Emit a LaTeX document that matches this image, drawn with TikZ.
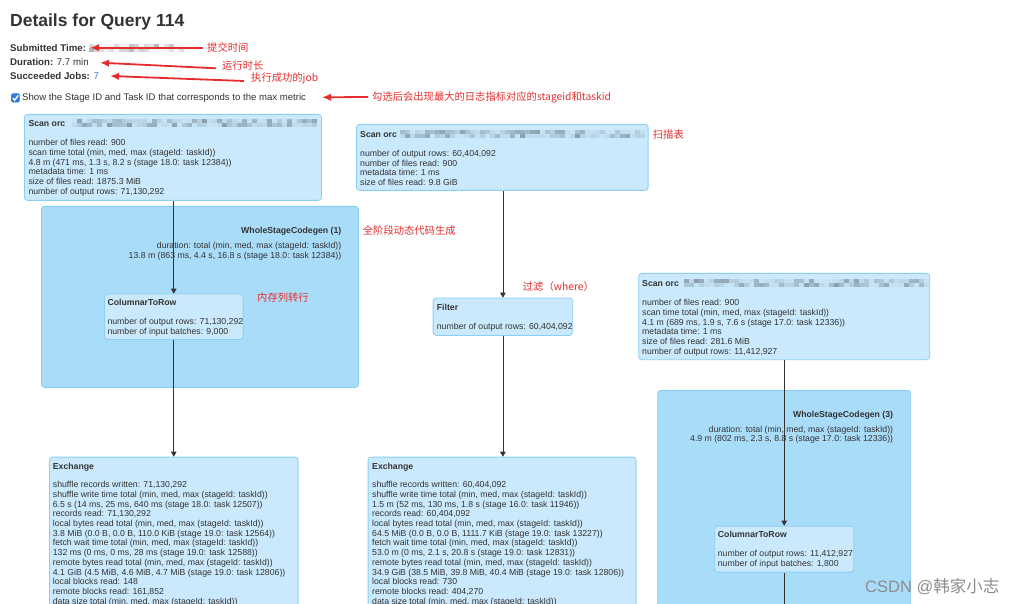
\documentclass[tikz,border=0pt]{standalone}
\usepackage{fontspec}
\setmainfont{Liberation Sans}
\newfontfamily\cjk{Noto Sans CJK SC}
\usetikzlibrary{arrows.meta,calc}
\definecolor{boxfill}{HTML}{CBE9FC}
\definecolor{boxline}{HTML}{8CCFF5}
\definecolor{wsfill}{HTML}{A9DCF9}
\definecolor{wsline}{HTML}{85CCF5}
\definecolor{txt}{HTML}{333333}
\definecolor{annot}{HTML}{E52D2D}
\definecolor{linkblue}{HTML}{2F7FD8}
\newcommand\pixblur[4]{% seed, x1, x2, ytop
  \pgfmathsetseed{#1}%
  \pgfmathtruncatemacro\nn{(#3-#2)/5}%
  \foreach \i in {0,...,\nn}{%
    \pgfmathsetmacro\opa{0.02+0.30*rnd^2}%
    \pgfmathsetmacro\opb{0.02+0.30*rnd^2}%
    \fill[black, opacity=\opa] ({#2+5*\i},#4) rectangle ++(5,4);
    \fill[black, opacity=\opb] ({#2+5*\i},#4+4) rectangle ++(5,4);
  }%
}
\begin{document}
\begin{tikzpicture}[x=1pt,y=-1pt,
  opbox/.style={draw=boxline, fill=boxfill, line width=0.8pt, rounded corners=3pt, inner sep=0pt, anchor=north west},
  wsbox/.style={draw=wsline, fill=wsfill, line width=0.8pt, rounded corners=3pt, inner sep=0pt, anchor=north west},
  optext/.style={anchor=north west, inner sep=0pt, align=left, text=txt, font=\fontsize{8.7}{9.7}\selectfont},
  wstext/.style={anchor=north east, inner sep=0pt, align=right, text=txt, font=\fontsize{8.7}{9.4}\selectfont},
  conn/.style={draw=txt, line width=0.7pt, -{Triangle[length=5pt,width=5.5pt]}},
  plainconn/.style={draw=txt, line width=0.7pt},
  note/.style={text=annot, font=\cjk\fontsize{10.3}{12}\selectfont, anchor=west, inner sep=0pt},
  redarrow/.style={draw=annot, line width=1.8pt, -{Latex[length=9pt,width=7.5pt]}},
  hdr/.style={anchor=base west, inner sep=0pt, text=txt, font=\fontsize{9.7}{11}\selectfont},
]
\useasboundingbox (0,0) rectangle (1018,604);
\clip (0,0) rectangle (1018,604);
\fill[white] (0,0) rectangle (1018,604);

% ---------- header ----------
\node[anchor=base west, inner sep=0pt, text=txt, font=\bfseries\fontsize{17.5}{20}\selectfont] (title) at (10,27) {Details for Query 114};
\node[hdr] (sub) at (10,51.2) {\textbf{Submitted Time:}};
\pixblur{11}{89}{180}{44}
\node[hdr] (dur) at (10,65.5) {\textbf{Duration:} 7.7 min};
\node[hdr] (jobs) at (10,79.5) {\textbf{Succeeded Jobs:} \textcolor{linkblue}{7}};
\node[draw=linkblue, fill=linkblue, rounded corners=1.5pt, minimum width=8.5pt, minimum height=8.5pt, inner sep=0pt, anchor=north west] (chk) at (11,93.5) {};
\draw[white, line width=1.3pt] ($(chk.center)+(-2.6,0.2)$) -- ($(chk.center)+(-0.7,2.2)$) -- ($(chk.center)+(2.8,-2.6)$);
\node[hdr, font=\fontsize{9.6}{11}\selectfont] (show) at (22,100.8) {Show the Stage ID and Task ID that corresponds to the max metric};

\node[note] (n1) at (207,47.5) {提交时间};
\node[note] (n2) at (222,65.3) {运行时长};
\node[note] (n3) at (251,78.7) {执行成功的job};
\node[note] (n4) at (372,97) {勾选后会出现最大的日志指标对应的stageid和taskid};
\coordinate (t1) at (90,47.7);
\coordinate (t2) at (100,62.7);
\coordinate (t3) at (110,76);
\coordinate (t4) at (322,97.3);
\draw[redarrow] ($(n1.west)+(-4,0.2)$) -- (t1);
\draw[redarrow] ($(n2.west)+(-6,3)$) -- (t2);
\draw[redarrow] ($(n3.west)+(-7,2.3)$) -- (t3);
\draw[redarrow] ($(n4.west)+(-4,0)$) -- (t4);

% ---------- WholeStageCodegen containers ----------
\node[wsbox, minimum width=317pt, minimum height=181pt] (ws1) at (41,206) {};
\node[wstext] (ws1t) at (341.5,227.3) {\textbf{WholeStageCodegen (1)}\\[5.5pt]
duration: total (min, med, max (stageId: taskId))\\
13.8 m (863 ms, 4.4 s, 16.8 s (stage 18.0: task 12384))};
\node[wsbox, minimum width=253pt, minimum height=260pt] (ws3) at (657.3,390) {};
\node[wstext] (ws3t) at (893.3,410.8) {\textbf{WholeStageCodegen (3)}\\[5.5pt]
duration: total (min, med, max (stageId: taskId))\\
4.9 m (802 ms, 2.3 s, 8.8 s (stage 17.0: task 12336))};

% ---------- operator boxes ----------
\node[opbox, minimum width=297pt, minimum height=86pt] (scanA) at (24,114) {};
\node[optext] (scanAt) at (28.3,120.1) {\textbf{Scan orc}\\[9.7pt]
number of files read: 900\\
scan time total (min, med, max (stageId: taskId))\\
4.8 m (471 ms, 1.3 s, 8.2 s (stage 18.0: task 12384))\\
metadata time: 1 ms\\
size of files read: 1875.3 MiB\\
number of output rows: 71,130,292};
\pixblur{23}{72}{314}{119.5}

\node[opbox, minimum width=138.7pt, minimum height=45.3pt] (colA) at (104,293.7) {};
\node[optext] (colAt) at (107.3,298.5) {\textbf{ColumnarToRow}\\[9.7pt]
number of output rows: 71,130,292\\
number of input batches: 9,000};

\node[opbox, minimum width=248.7pt, minimum height=200pt] (exA) at (49,456.7) {};
\node[optext] (exAt) at (52.7,462.5) {\textbf{Exchange}\\[9pt]
shuffle records written: 71,130,292\\
shuffle write time total (min, med, max (stageId: taskId))\\
6.5 s (14 ms, 25 ms, 640 ms (stage 18.0: task 12507))\\
records read: 71,130,292\\
local bytes read total (min, med, max (stageId: taskId))\\
3.8 MiB (0.0 B, 0.0 B, 110.0 KiB (stage 19.0: task 12564))\\
fetch wait time total (min, med, max (stageId: taskId))\\
132 ms (0 ms, 0 ms, 28 ms (stage 19.0: task 12588))\\
remote bytes read total (min, med, max (stageId: taskId))\\
4.1 GiB (4.5 MiB, 4.6 MiB, 4.7 MiB (stage 19.0: task 12806))\\
local blocks read: 148\\
remote blocks read: 161,852\\
data size total (min, med, max (stageId: taskId))};

\node[opbox, minimum width=291.7pt, minimum height=66pt] (scanB) at (356,124) {};
\node[optext] (scanBt) at (360,130.8) {\textbf{Scan orc}\\[9.7pt]
number of output rows: 60,404,092\\
number of files read: 900\\
metadata time: 1 ms\\
size of files read: 9.8 GiB};
\pixblur{37}{400}{640}{130}

\node[opbox, minimum width=139.6pt, minimum height=37.3pt] (filt) at (432.7,297.7) {};
\node[optext] (filtt) at (436.7,303.5) {\textbf{Filter}\\[9.7pt]
number of output rows: 60,404,092};

\node[opbox, minimum width=268pt, minimum height=200pt] (exB) at (367.7,456.7) {};
\node[optext] (exBt) at (372,462.5) {\textbf{Exchange}\\[9pt]
shuffle records written: 60,404,092\\
shuffle write time total (min, med, max (stageId: taskId))\\
1.5 m (52 ms, 130 ms, 1.8 s (stage 16.0: task 11946))\\
records read: 60,404,092\\
local bytes read total (min, med, max (stageId: taskId))\\
64.5 MiB (0.0 B, 0.0 B, 1111.7 KiB (stage 19.0: task 13227))\\
fetch wait time total (min, med, max (stageId: taskId))\\
53.0 m (0 ms, 2.1 s, 20.8 s (stage 19.0: task 12831))\\
remote bytes read total (min, med, max (stageId: taskId))\\
34.9 GiB (38.5 MiB, 39.8 MiB, 40.4 MiB (stage 19.0: task 12806))\\
local blocks read: 730\\
remote blocks read: 404,270\\
data size total (min, med, max (stageId: taskId))};

\node[opbox, minimum width=291pt, minimum height=86.3pt] (scanC) at (638.3,273) {};
\node[optext] (scanCt) at (642,280.1) {\textbf{Scan orc}\\[9.7pt]
number of files read: 900\\
scan time total (min, med, max (stageId: taskId))\\
4.1 m (689 ms, 1.9 s, 7.6 s (stage 17.0: task 12336))\\
metadata time: 1 ms\\
size of files read: 281.6 MiB\\
number of output rows: 11,412,927};
\pixblur{53}{684}{925}{279}

\node[opbox, minimum width=139pt, minimum height=46pt] (colC) at (714.3,525.7) {};
\node[optext] (colCt) at (717.7,530.8) {\textbf{ColumnarToRow}\\[9.7pt]
number of output rows: 11,412,927\\
number of input batches: 1,800};

% ---------- connectors ----------
\draw[conn] (colA.north |- scanA.south) -- (colA.north);
\draw[conn] (colA.south) -- (exA.north);
\draw[conn] (filt.north |- scanB.south) -- (filt.north);
\draw[conn] (filt.south) -- (exB.north -| filt.south);
\draw[conn] (colC.north |- scanC.south) -- (colC.north);
\coordinate (colCout) at ($(colC.south)+(0,40)$);
\draw[plainconn] (colC.south) -- (colCout);

% ---------- annotations in the plan ----------
\node[note] (n5) at (652.7,135) {扫描表};
\node[note] (n6) at (362.7,230.7) {全阶段动态代码生成};
\node[note] (n7) at (257,297.7) {内存列转行};
\node[note] (n8) at (522.7,286.7) {过滤（where）};

\node[anchor=west, inner sep=0pt, text=black!45, font=\fontsize{16.5}{18}\selectfont] (wm) at (865,586.7) {CSDN @{\cjk 韩家小志}};
\end{tikzpicture}
\end{document}
